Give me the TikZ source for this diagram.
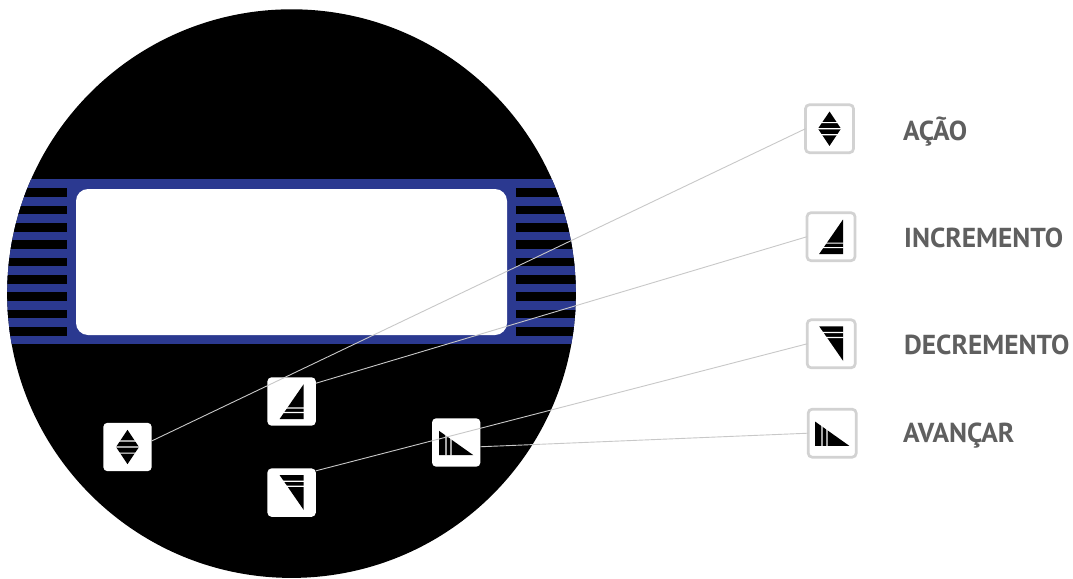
\documentclass[tikz,border=0pt]{standalone}
\usepackage{fontspec}
\setmainfont{PT Sans}
\definecolor{bandblue}{HTML}{2B3990}
\definecolor{leaderline}{HTML}{C8C8C8}
\definecolor{frameline}{HTML}{D2D2D2}
\definecolor{labelgrey}{HTML}{5F5F5F}
\tikzset{
  x=1pt,y=-1pt,
  panelbtn/.style={fill=white,rounded corners=4pt,minimum size=48.3pt,inner sep=0pt,outer sep=0pt},
  legendbtn/.style={fill=white,draw=frameline,line width=2.7pt,rounded corners=4pt,minimum size=48pt,inner sep=0pt,outer sep=0pt},
  leader/.style={draw=leaderline,line width=.9pt},
  legendtext/.style={anchor=base west,inner sep=0pt,text=labelgrey,font=\fontsize{27.4}{32}\selectfont\bfseries},
}
% icons are drawn around the centre of a button
\newcommand{\iconaction}[1]{\begin{scope}[shift={(#1)}]
  \fill[black] (0,-17.2) -- (11.5,0) -- (0,17.2) -- (-11.5,0) -- cycle;
  \fill[white] (-12,-6.7) rectangle (12,-5.5) (-12,-.6) rectangle (12,.6) (-12,5.5) rectangle (12,6.7);
\end{scope}}
\newcommand{\iconinc}[1]{\begin{scope}[shift={(#1)}]
  \fill[black] (12,-17.2) -- (12,17.5) -- (-12,17.5) -- cycle;
  \fill[white] (-12,5.8) rectangle (12.5,7) (-12,10.3) rectangle (12.5,11.5);
\end{scope}}
\newcommand{\icondec}[1]{\begin{scope}[shift={(#1)}]
  \fill[black] (12,17.2) -- (12,-17.5) -- (-12,-17.5) -- cycle;
  \fill[white] (-12,-12) rectangle (12.5,-10.8) (-12,-7) rectangle (12.5,-5.8);
\end{scope}}
\newcommand{\iconadv}[1]{\begin{scope}[shift={(#1)}]
  \fill[black] (-17.2,-11.7) -- (17.2,12.7) -- (-17.2,12.7) -- cycle;
  \fill[white] (-10.8,-12) rectangle (-9.6,13) (-5.8,-12) rectangle (-4.6,13);
\end{scope}}
\begin{document}
\begin{tikzpicture}
\useasboundingbox (0,0) rectangle (1073,578);
\fill[white] (0,0) rectangle (1073,578);
\begin{scope}
  \clip (0,0) rectangle (1073,578);
  \fill[black] (291.5,293.6) circle[radius=284.3];
\end{scope}
\begin{scope}
  \clip (291.5,293.6) circle[radius=284.3];
  \fill[bandblue] (0,179.4) rectangle (600,343.7);
  \foreach \k in {0,...,8}{
    \fill[black] (0,188.3+17.33*\k) rectangle (67,197+17.33*\k);
    \fill[black] (516,188.3+17.33*\k) rectangle (600,197+17.33*\k);
  }
\end{scope}
\fill[white,rounded corners=12pt] (76,189) rectangle (507,335);
% panel buttons
\node[panelbtn] (pa) at (127.5,447) {};
\node[panelbtn] (pi) at (291.6,401.5) {};
\node[panelbtn] (pd) at (291.6,492.6) {};
\node[panelbtn] (pv) at (456.2,442.5) {};
\iconaction{pa.center}
\iconinc{pi.center}
\icondec{pd.center}
\iconadv{pv.center}
% legend buttons
\node[legendbtn] (la) at (829.5,128.7) {};
\node[legendbtn] (li) at (831,236.7) {};
\node[legendbtn] (ld) at (831.2,343.8) {};
\node[legendbtn] (lv) at (832.2,433.2) {};
\iconaction{la.center}
\iconinc{li.center}
\icondec{ld.center}
\iconadv{lv.center}
% leaders
\draw[leader] (pa.14) -- (la.west);
\draw[leader] (pi.37) -- (li.west);
\draw[leader] (pd.42) -- (ld.west);
\draw[leader] (pv.-10) -- (lv.west);
% labels
\node[legendtext] (ta) at (903,140.5) {AÇÃO};
\node[legendtext] (ti) at (904,247.5) {INCREMENTO};
\node[legendtext] (td) at (904,354.2) {DECREMENTO};
\node[legendtext] (tv) at (903,442.8) {AVANÇAR};
\end{tikzpicture}
\end{document}
